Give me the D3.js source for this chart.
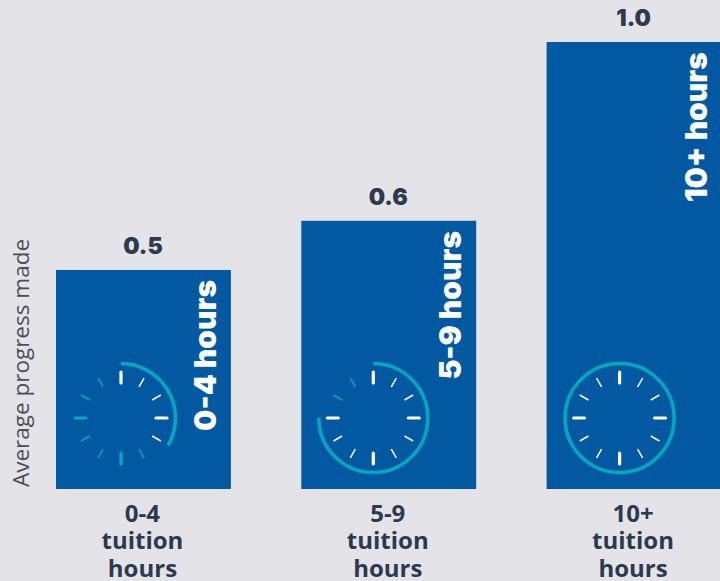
<!DOCTYPE html>
<html><head><meta charset="utf-8">
<style>html,body{margin:0;padding:0;background:#e4e4e8;overflow:hidden}svg{display:block}</style>
<script src="https://cdn.jsdelivr.net/npm/d3@7"></script></head>
<body><svg id="c" width="720" height="581"></svg>
<script>
const categories = ["0-4 tuition hours", "5-9 tuition hours", "10+ tuition hours"];
const tickLines = [["0-4","tuition","hours"],["5-9","tuition","hours"],["10+","tuition","hours"]];
const barNames = ["0-4 hours","5-9 hours","10+ hours"];
const progress = [0.49, 0.6, 1.0];
const progressLabels = ["0.5","0.6","1.0"];
const clockFraction = [4/12, 9/12, 12/12];
const yTitle = "Average progress made";

const clockOffset = [65, 72, 73];
const svg = d3.select("#c");
const blue="#0259a1", teal="#00a9bd", ink="#2c3a50", grey="#4a4f58";
const y = d3.scaleLinear().domain([0,1]).range([489,42]);
const x = d3.scaleBand().domain(categories).range([56,721.5]).paddingInner(0.287).paddingOuter(0);
const bw = x.bandwidth();

categories.forEach((c,i)=>{
  const g = svg.append("g");
  const x0 = x(c);
  g.append("rect").attr("x",x0).attr("y",y(progress[i])).attr("width",bw).attr("height",y(0)-y(progress[i])).attr("fill",blue);
  g.append("text").attr("x",x0+bw/2-0.5).attr("y",y(progress[i])-16).attr("text-anchor","middle")
    .attr("font-family","Inter").attr("font-weight",900).attr("font-size",23).attr("fill",ink).text(progressLabels[i]);
  const tx = x0+bw-15, ty = y(progress[i])+10;
  g.append("text").attr("transform",`translate(${tx},${ty}) rotate(-90)`).attr("text-anchor","end")
    .attr("font-family","Inter").attr("font-weight",900).attr("font-size",30).attr("fill","#fff").text(barNames[i]);
  const cx = x0+clockOffset[i], cy = 418;
  const ck = g.append("g").attr("transform",`translate(${cx},${cy})`);
  d3.range(12).forEach(k=>{
    const a = k/12*2*Math.PI, major = k%3===0;
    const on = k/12 <= clockFraction[i]+1e-6;
    const r1 = major?35:36, r2 = 46;
    ck.append("line").attr("x1",Math.sin(a)*r1).attr("y1",-Math.cos(a)*r1)
      .attr("x2",Math.sin(a)*r2).attr("y2",-Math.cos(a)*r2)
      .attr("stroke",on?"#fff":teal).attr("stroke-width",major?3.2:1.5)
      .attr("stroke-linecap",major?"round":"butt");
  });
  ck.append("path").attr("d",d3.arc()({innerRadius:54.5,outerRadius:54.5,startAngle:0,endAngle:clockFraction[i]*2*Math.PI}))
    .attr("fill","none").attr("stroke",teal).attr("stroke-width",3.6).attr("stroke-linecap","round");
  const t = svg.append("text").attr("text-anchor","middle").attr("font-family","Open Sans").attr("font-weight",700)
    .attr("font-size",24).attr("fill",ink);
  tickLines[i].forEach((l,j)=>t.append("tspan").attr("x",x0+bw/2-1).attr("y",521.5+j*27.7).text(l));
});
svg.append("text").attr("transform","translate(29,363) rotate(-90)").attr("text-anchor","middle")
  .attr("font-family","Open Sans").attr("font-size",22.5).attr("fill",grey).text(yTitle);
</script></body></html>
